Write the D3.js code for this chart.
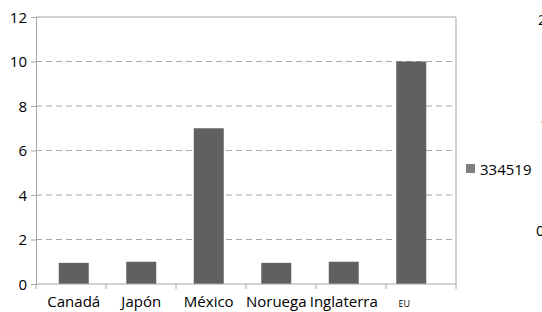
<!DOCTYPE html>
<meta charset="utf-8">
<head>
    <title>Bar chart</title>
    <script src="https://cdn.jsdelivr.net/npm/d3@7"></script>
</head>

<style>
    body { margin: 0; background: #fff; }
    text { font-family: "Open Sans", "Noto Sans", sans-serif; fill: #000; }
    .grid line { stroke: #a6a6a6; stroke-dasharray: 6,4; }
    .frame { stroke: #a6a6a6; fill: none; }
</style>
<svg width="542" height="312"></svg>

<script>
    var categories = ["Canadá", "Japón", "México", "Noruega", "Inglaterra", "EU"];
    var values = [0.95, 1.0, 7.0, 0.95, 1.0, 10.0];
    var seriesName = "334519";
    var yTicks = [0, 2, 4, 6, 8, 10, 12];

    var svg = d3.select('svg');
    var pLeft = 36, pRight = 456, pTop = 17, pBottom = 284;

    // scales
    var y = d3.scaleLinear().domain([0, 12]).range([pBottom, pTop]);
    var xAxisScale = d3.scaleBand().domain(categories).range([pLeft, pRight]);
    var xBars = d3.scaleBand().domain(categories).range([40, 445])
        .paddingInner(0.556).paddingOuter(0.278);

    // gridlines
    svg.append('g').attr('class', 'grid')
        .selectAll('line').data(yTicks.filter(function (d) { return d > 0 && d < 12; }))
        .enter().append('line')
        .attr('x1', pLeft).attr('x2', pRight)
        .attr('y1', function (d) { return y(d); })
        .attr('y2', function (d) { return y(d); });

    // plot frame (top + right)
    svg.append('path').attr('class', 'frame')
        .attr('d', 'M' + pLeft + ',' + pTop + 'H' + pRight + 'V' + pBottom);

    // bars
    svg.append('g').selectAll('rect').data(values).enter().append('rect')
        .attr('x', function (d, i) { return xBars(categories[i]); })
        .attr('width', xBars.bandwidth())
        .attr('y', function (d) { return y(d); })
        .attr('height', function (d) { return y(0) - y(d); })
        .attr('fill', '#606060');

    // y axis
    var yAxis = svg.append('g').attr('transform', 'translate(' + pLeft + ',0)')
        .call(d3.axisLeft(y).tickValues(yTicks).tickSize(5).tickPadding(4));
    yAxis.select('.domain').attr('stroke', '#a6a6a6');
    yAxis.selectAll('.tick line').attr('stroke', '#a6a6a6');
    yAxis.selectAll('.tick text').style('font-size', '15px')
        .style('font-family', '"Open Sans", "Noto Sans", sans-serif').attr('dy', '0.36em');

    // x axis: ticks at category boundaries
    var xg = svg.append('g');
    xg.append('line').attr('x1', pLeft).attr('x2', pRight)
        .attr('y1', pBottom).attr('y2', pBottom).attr('stroke', '#a6a6a6');
    var bounds = categories.map(function (c) { return xAxisScale(c); }).concat([pRight]);
    xg.selectAll('line.tk').data(bounds).enter().append('line').attr('class', 'tk')
        .attr('x1', function (d) { return d; }).attr('x2', function (d) { return d; })
        .attr('y1', pBottom).attr('y2', pBottom + 5).attr('stroke', '#a6a6a6');
    xg.selectAll('text').data(categories).enter().append('text')
        .attr('x', function (d) { return xBars(d) + xBars.bandwidth() / 2 - (d === 'EU' ? 7 : 0); })
        .attr('y', 307)
        .attr('text-anchor', 'middle')
        .style('font-size', function (d) { return d === 'EU' ? '9px' : '15px'; })
        .text(function (d) { return d; });

    // legend
    svg.append('rect').attr('x', 466).attr('y', 164).attr('width', 9).attr('height', 9).attr('fill', '#7f7f7f');
    svg.append('text').attr('x', 480).attr('y', 175).style('font-size', '15px').text(seriesName);

    // cut-off text of neighbouring chart at the right edge
    svg.selectAll('text.cut').data([["2", 538, 25], ["1", 540, 130], ["0", 536, 236]]).enter().append('text')
        .attr('class', 'cut').attr('x', function (d) { return d[1]; })
        .attr('y', function (d) { return d[2]; })
        .style('font-size', '15px').text(function (d) { return d[0]; });
</script>
